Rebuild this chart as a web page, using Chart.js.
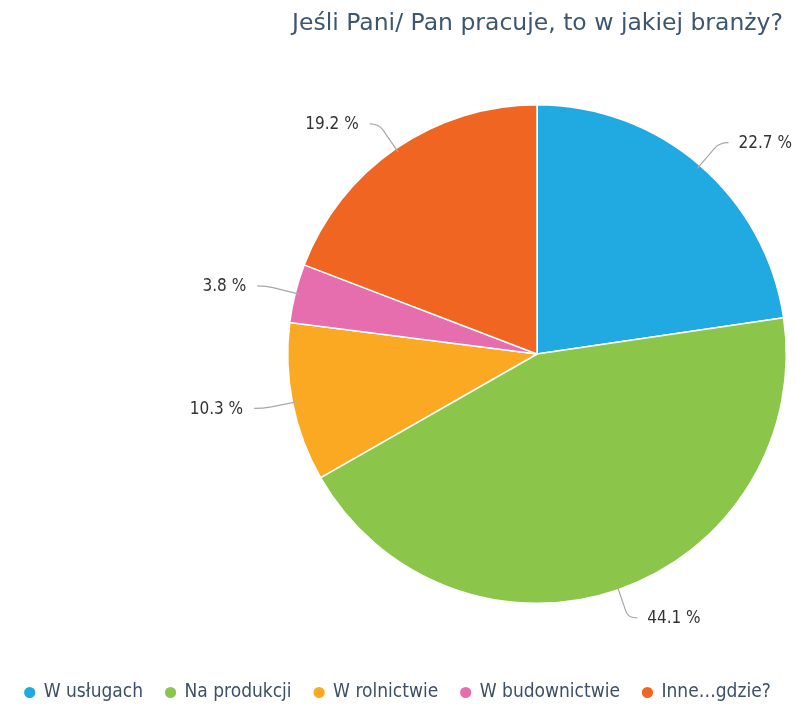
<!DOCTYPE html>
<html>
<head>
<meta charset="utf-8">
<script src="https://cdn.jsdelivr.net/npm/chart.js@4"></script>
<style>
  html, body { margin: 0; padding: 0; background: #fff; }
  #wrap { width: 796px; height: 704px; }
</style>
</head>
<body>
<div id="wrap"><canvas id="myChart" width="796" height="704"></canvas></div>
<script>
// dane z wykresu
var kategorie = ['W usługach', 'Na produkcji', 'W rolnictwie', 'W budownictwie', 'Inne…gdzie?'];
var procenty = [22.7, 44.1, 10.3, 3.8, 19.2];
var kolory = ['#21a9e1', '#8bc54a', '#fba923', '#e76eae', '#f16522'];
var tytul = 'Jeśli Pani/ Pan pracuje, to w jakiej branży?';

// ustawia obszar koła (środek i promień) i prawy brzeg tytułu
var obszarKola = {
    id: 'obszarKola',
    afterLayout: function (chart) {
        var a = chart.chartArea;
        a.left = 287; a.right = 787;
        a.top = 104; a.bottom = 604;
        a.width = 500; a.height = 500;
        if (chart.titleBlock) {
            chart.titleBlock.right = 783;
            chart.titleBlock.width = 783 - chart.titleBlock.left;
        }
    }
};

// etykiety z procentami i linie prowadzące
var etykiety = {
    id: 'etykiety',
    afterDraw: function (chart) {
        var ctx = chart.ctx;
        var meta = chart.getDatasetMeta(0);
        ctx.save();
        meta.data.forEach(function (arc, i) {
            var kat = (arc.startAngle + arc.endAngle) / 2;
            var r = arc.outerRadius;
            var cos = Math.cos(kat), sin = Math.sin(kat);
            var x0 = arc.x + cos * (r - 4), y0 = arc.y + sin * (r - 4);
            var x1 = arc.x + cos * (r + 30), y1 = arc.y + sin * (r + 30);
            var prawa = cos >= 0;
            var x2 = x1 + (prawa ? 9 : -9);
            ctx.strokeStyle = '#a8a8a8';
            ctx.lineWidth = 1.2;
            ctx.beginPath();
            ctx.moveTo(x0, y0);
            var xm = arc.x + cos * (r + 23), ym = arc.y + sin * (r + 23);
            ctx.lineTo(xm, ym);
            ctx.quadraticCurveTo(x1, y1, x2, y1);
            ctx.stroke();
            ctx.fillStyle = '#333333';
            ctx.font = '17px "DejaVu Sans Condensed", "DejaVu Sans", sans-serif';
            ctx.textBaseline = 'middle';
            ctx.textAlign = prawa ? 'left' : 'right';
            ctx.fillText(procenty[i].toFixed(1) + ' %', x2 + (prawa ? 10 : -11), y1 + 1);
        });
        ctx.restore();
    }
};

var ctx = document.getElementById('myChart').getContext('2d');
var myChart = new Chart(ctx, {
    type: 'pie',
    data: {
        labels: kategorie,
        datasets: [{
            data: procenty,
            backgroundColor: kolory,
            borderColor: '#ffffff',
            borderWidth: 1.5
        }]
    },
    options: {
        responsive: false,
        animation: false,
        layout: { padding: { left: 0, right: 0, top: 0, bottom: -8 } },
        plugins: {
            title: {
                display: true,
                text: tytul,
                align: 'end',
                color: '#3d5670',
                font: { family: '"DejaVu Sans", sans-serif', size: 23.5, weight: 'normal' },
                padding: { top: 10, bottom: 10 }
            },
            legend: {
                position: 'bottom',
                labels: {
                    usePointStyle: true,
                    pointStyle: 'circle',
                    boxWidth: 9,
                    boxHeight: 9,
                    padding: 23,
                    color: '#3d5066',
                    font: { family: '"DejaVu Sans Condensed", "DejaVu Sans", sans-serif', size: 19 }
                }
            },
            tooltip: { enabled: false }
        }
    },
    plugins: [obszarKola, etykiety]
});
</script>
</body>
</html>
